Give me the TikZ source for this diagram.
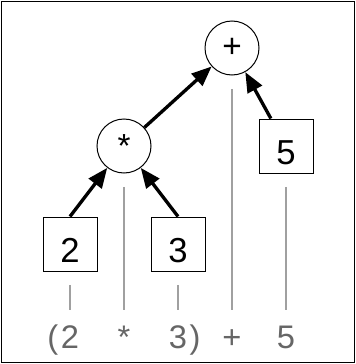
\documentclass[tikz,border=0pt]{standalone}
\usepackage{fontspec}
\setmainfont{Liberation Sans}
\usetikzlibrary{arrows.meta, positioning}
\definecolor{exprGray}{HTML}{666666}
\definecolor{guideGray}{HTML}{A0A0A0}
\tikzstyle{opNode} = [circle, draw=black, line width=0.75pt, minimum size=40.5pt, inner sep=0pt, font=\fontsize{25}{30}\selectfont]
\tikzstyle{numNode} = [rectangle, draw=black, line width=0.75pt, minimum size=40.5pt, inner sep=0pt, text height=27pt, text depth=0pt, font=\fontsize{26}{30}\selectfont]
\tikzstyle{token} = [anchor=base, inner sep=0pt, text height=18pt, text depth=0pt, text=exprGray, font=\fontsize{24.5}{30}\selectfont]
\tikzstyle{arrowChild} = [line width=2.5pt, -{Triangle[length=15pt, width=12pt]}]
\tikzstyle{guide} = [guideGray, line width=1.5pt, shorten >=10.5pt, shorten <=10pt]

\begin{document}
\begin{tikzpicture}[x=0.75pt, y=-0.75pt, on grid]

    \useasboundingbox (0,0) rectangle (356,364);
    \draw [line width=1.2pt] (1.5,1.5) rectangle (354.5,362.5);

    % tree
    \node (add) [opNode] at (232,48) {+};
    \node (mul) [opNode, below left=73.5pt and 81pt of add] {*};
    \node (n5) [numNode, below right=73.5pt and 40.5pt of add] {5};
    \node (n2) [numNode, below left=73.5pt and 40.5pt of mul] {2};
    \node (n3) [numNode, below right=73.5pt and 40.5pt of mul] {3};

    \draw [arrowChild] (n2.north) -- (mul);
    \draw [arrowChild] (n3.north) -- (mul);
    \draw [arrowChild] (mul) -- (add);
    \draw [arrowChild] (n5) -- (add);

    % expression text
    \foreach \n/\t in {n2/\llap{(\kern2pt}2, mul/*, n3/3\rlap{\kern2pt)}, add/+, n5/5} {
        \node (tok\n) [token] at (\n |- 0,348) {\t};
        \draw [guide] (\n) -- (\n |- tok\n.north);
    }

\end{tikzpicture}
\end{document}
